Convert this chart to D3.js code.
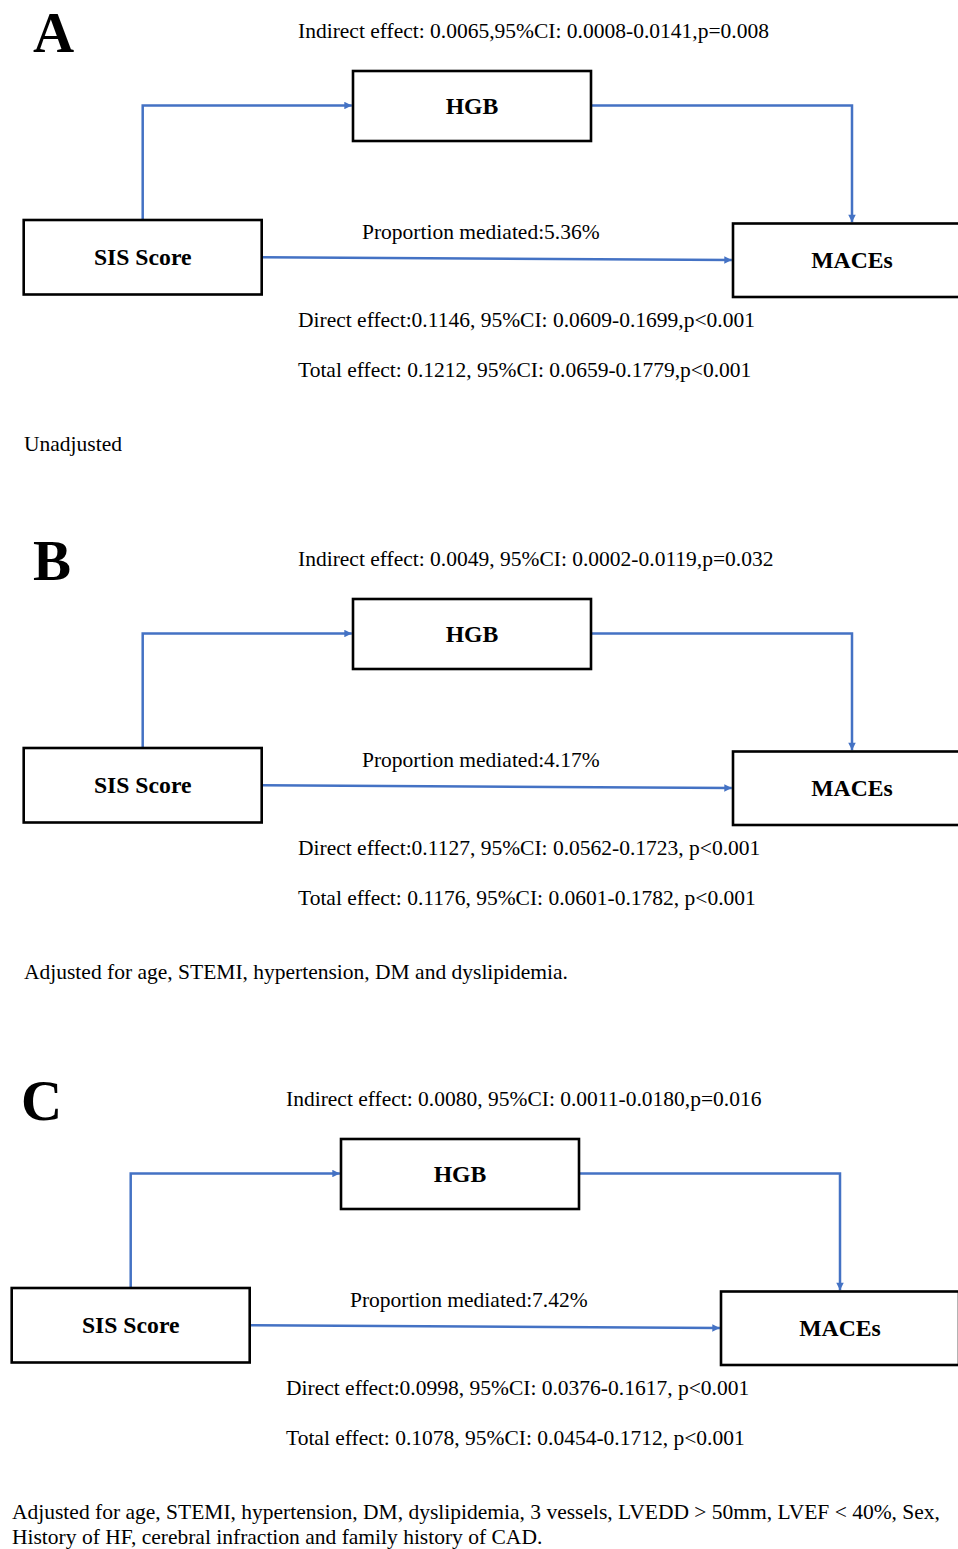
<!DOCTYPE html>
<html>
<head>
<meta charset="utf-8">
<script src="https://cdn.jsdelivr.net/npm/d3@7"></script>
<style>
  html, body { margin: 0; padding: 0; background: #fff; }
  svg { display: block; }
</style>
</head>
<body>
<div id="chart"></div>
<script>
// Mediation models: SIS Score -> HGB -> MACEs, three adjustment levels
const panelLetters = ["A", "B", "C"];
const nodeNames = ["SIS Score", "HGB", "MACEs"];
const indirectLabels = [
  "Indirect effect: 0.0065,95%CI: 0.0008-0.0141,p=0.008",
  "Indirect effect: 0.0049, 95%CI: 0.0002-0.0119,p=0.032",
  "Indirect effect: 0.0080, 95%CI: 0.0011-0.0180,p=0.016"
];
const proportionLabels = [
  "Proportion mediated:5.36%",
  "Proportion mediated:4.17%",
  "Proportion mediated:7.42%"
];
const directLabels = [
  "Direct effect:0.1146, 95%CI: 0.0609-0.1699,p<0.001",
  "Direct effect:0.1127, 95%CI: 0.0562-0.1723, p<0.001",
  "Direct effect:0.0998, 95%CI: 0.0376-0.1617, p<0.001"
];
const totalLabels = [
  "Total effect: 0.1212, 95%CI: 0.0659-0.1779,p<0.001",
  "Total effect: 0.1176, 95%CI: 0.0601-0.1782, p<0.001",
  "Total effect: 0.1078, 95%CI: 0.0454-0.1712, p<0.001"
];
const adjustmentNotes = [
  ["Unadjusted"],
  ["Adjusted for age, STEMI, hypertension, DM and dyslipidemia."],
  ["Adjusted for age, STEMI, hypertension, DM, dyslipidemia, 3 vessels, LVEDD > 50mm, LVEF < 40%, Sex,",
   "History of HF, cerebral infraction and family history of CAD."]
];

const W = 958, H = 1549;
const BLUE = "#4472C4";
const SERIF = "'Liberation Serif', 'Times New Roman', serif";
const TEXT_SIZE = 21.5;

const svg = d3.select("#chart").append("svg")
  .attr("width", W).attr("height", H)
  .attr("viewBox", `0 0 ${W} ${H}`);
svg.append("rect").attr("width", W).attr("height", H).attr("fill", "#fff");

const defs = svg.append("defs");
defs.append("marker")
  .attr("id", "arrow")
  .attr("viewBox", "0 0 10 10")
  .attr("refX", 10).attr("refY", 5)
  .attr("markerWidth", 3.4).attr("markerHeight", 3.0)
  .attr("markerUnits", "strokeWidth")
  .attr("orient", "auto")
  .append("path").attr("d", "M0,0 L10,5 L0,10 Z").attr("fill", BLUE);

// panel offsets (each panel drawn in its own local frame)
const panelX = d3.scaleOrdinal().domain(panelLetters).range([0, 0, -12]);
const panelY = d3.scaleOrdinal().domain(panelLetters).range([0, 528, 1068]);

// node boxes in local panel coordinates
const boxW = 238;
const nodeLayout = {
  "SIS Score": { cx: 142.7, top: 220, h: 74.5 },
  "HGB":       { cx: 472,   top: 71,  h: 70 },
  "MACEs":     { cx: 852,   top: 223.5, h: 73.5 }
};

const line = d3.line();

panelLetters.forEach((letter, i) => {
  const g = svg.append("g")
    .attr("transform", `translate(${panelX(letter)},${panelY(letter)})`);

  const sis = nodeLayout["SIS Score"], hgb = nodeLayout["HGB"], mac = nodeLayout["MACEs"];
  const hgbMidY = hgb.top + hgb.h / 2 - 0.5;

  const arrowPath = pts => g.append("path")
    .attr("d", line(pts))
    .attr("fill", "none").attr("stroke", BLUE).attr("stroke-width", 2.5)
    .attr("marker-end", "url(#arrow)");

  // a-path: SIS Score -> HGB
  arrowPath([[sis.cx, sis.top - 1], [sis.cx, hgbMidY], [hgb.cx - boxW / 2 - 1.2, hgbMidY]]);
  // b-path: HGB -> MACEs
  arrowPath([[hgb.cx + boxW / 2 + 1, hgbMidY], [mac.cx, hgbMidY], [mac.cx, mac.top - 1.2]]);
  // c'-path: SIS Score -> MACEs
  arrowPath([[sis.cx + boxW / 2 + 1, 257.3], [mac.cx - boxW / 2 - 1.2, 260]]);

  // boxes
  const nodes = g.selectAll("g.node").data(nodeNames).join("g").attr("class", "node");
  nodes.append("rect")
    .attr("x", d => nodeLayout[d].cx - boxW / 2)
    .attr("y", d => nodeLayout[d].top)
    .attr("width", boxW)
    .attr("height", d => nodeLayout[d].h)
    .attr("fill", "#fff").attr("stroke", "#000").attr("stroke-width", 2.6);
  nodes.append("text")
    .attr("x", d => nodeLayout[d].cx)
    .attr("y", d => nodeLayout[d].top + nodeLayout[d].h / 2 + 8)
    .attr("text-anchor", "middle")
    .attr("font-family", SERIF).attr("font-weight", "bold").attr("font-size", 23.7)
    .attr("fill", "#000")
    .text(d => d);

  // panel letter
  g.append("text")
    .attr("x", 33).attr("y", 52)
    .attr("font-family", SERIF).attr("font-weight", "bold").attr("font-size", 57)
    .attr("fill", "#000").text(letter);

  const txt = (x, y, s) => g.append("text")
    .attr("x", x).attr("y", y)
    .attr("font-family", SERIF).attr("font-size", TEXT_SIZE)
    .attr("fill", "#000").text(s);

  txt(298, 37.5, indirectLabels[i]);
  txt(362, 239, proportionLabels[i]);
  txt(298, 327, directLabels[i]);
  txt(298, 377, totalLabels[i]);
  adjustmentNotes[i].forEach((s, k) => txt(24, 451 + k * 25, s));
});
</script>
</body>
</html>
